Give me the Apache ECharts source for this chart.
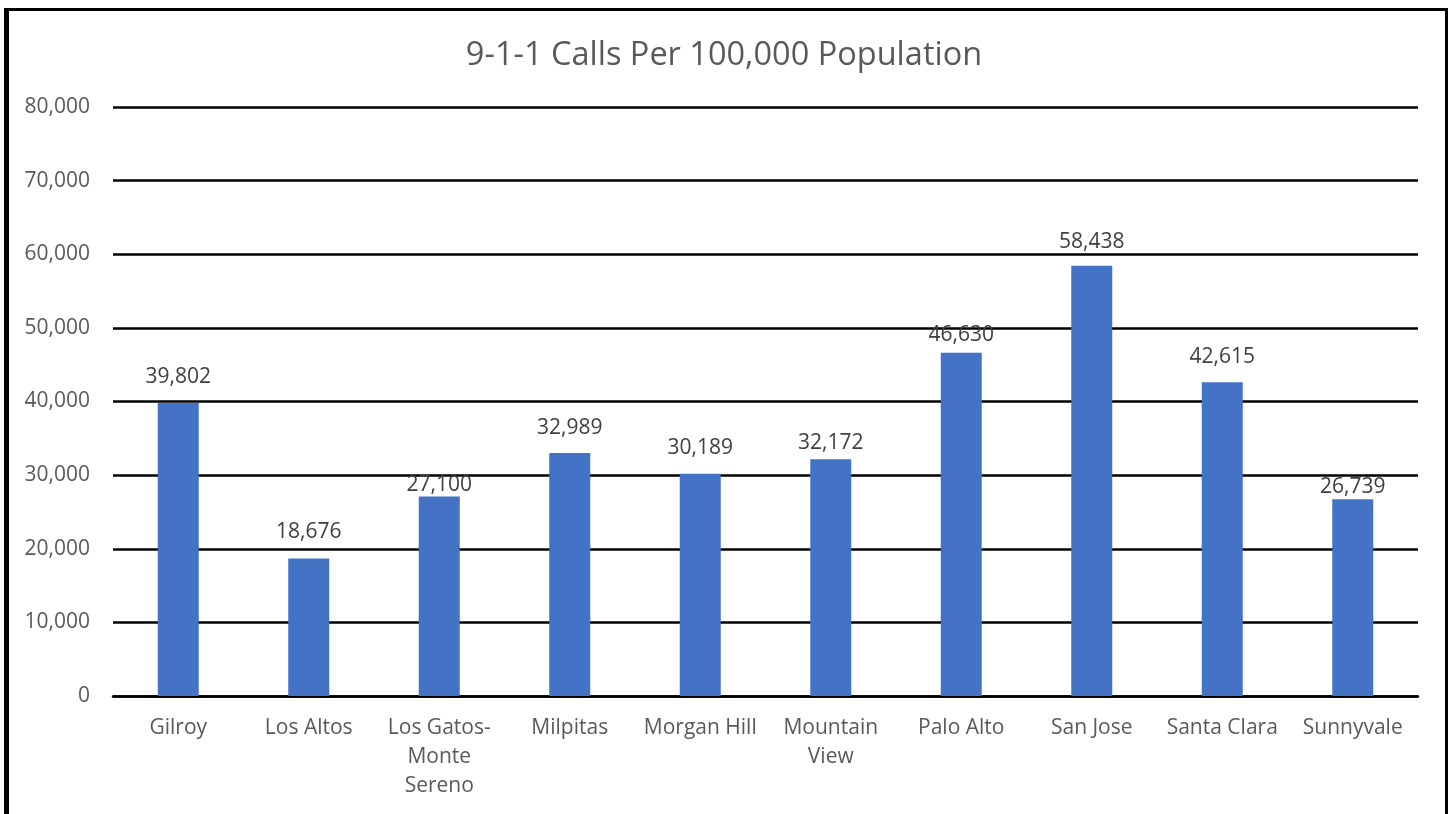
<!DOCTYPE html>
<html>
<head>
<meta charset="utf-8">
<script src="https://cdn.jsdelivr.net/npm/echarts@6/dist/echarts.min.js"></script>
<style>
  html, body { margin: 0; padding: 0; background: #fff; overflow: hidden; }
  #main { position: absolute; left: 0; top: 0; width: 1448px; height: 814px; }
  #frame {
    position: absolute; left: 4px; top: 8px; width: 1436px; height: 900px;
    border-left: 5px solid #000; border-top: 3px solid #000; border-right: 3px solid #000;
    pointer-events: none;
  }
</style>
</head>
<body>
<div id="main"></div>
<div id="frame"></div>
<script>
  // data
  var cities = ['Gilroy', 'Los Altos', 'Los Gatos-Monte Sereno', 'Milpitas', 'Morgan Hill',
                'Mountain View', 'Palo Alto', 'San Jose', 'Santa Clara', 'Sunnyvale']
  var callsPer100k = [39802, 18676, 27100, 32989, 30189, 32172, 46630, 58438, 42615, 26739]
  var yTicks = [0, 10000, 20000, 30000, 40000, 50000, 60000, 70000, 80000]

  // label spacing above each bar (the original labels were nudged by hand)
  var labelGap = [15, 16, 1, 15, 15, 6, 7, 13, 15, 2]

  var font = '"Open Sans", "Liberation Sans", sans-serif'
  var fmt = function (v) { return Number(v).toLocaleString('en-US') }

  var barData = callsPer100k.map(function (v, i) {
    return { value: v, label: { distance: labelGap[i] } }
  })

  var myChart = echarts.init(document.getElementById('main'))
  var option = {
    backgroundColor: '#fff',
    animation: false,
    title: {
      text: '9-1-1 Calls Per 100,000 Population',
      left: 'center',
      top: 34,
      textStyle: { fontFamily: font, fontSize: 32.5, fontWeight: 'normal', color: '#595959' }
    },
    grid: { left: 113, right: 30, top: 107, bottom: 118 },
    xAxis: {
      type: 'category',
      data: cities,
      axisLine: { lineStyle: { color: '#000', width: 2.5 } },
      axisTick: { show: false },
      axisLabel: {
        interval: 0,
        margin: 18,
        color: '#595959',
        fontFamily: font,
        fontSize: 21,
        lineHeight: 29,
        formatter: function (v) {
          return v.replace('-', '-\n').replace(/ (Sereno|View)$/, '\n$1')
        }
      }
    },
    yAxis: {
      type: 'value',
      min: yTicks[0],
      max: yTicks[yTicks.length - 1],
      interval: yTicks[1] - yTicks[0],
      axisLine: { show: false },
      axisTick: { show: false },
      splitLine: { lineStyle: { color: '#000', width: 2.5 } },
      axisLabel: {
        margin: 23,
        color: '#595959',
        fontFamily: font,
        fontSize: 21,
        formatter: fmt
      }
    },
    series: [{
      type: 'bar',
      data: barData,
      barWidth: 41,
      itemStyle: { color: '#4472C4' },
      label: {
        show: true,
        position: 'top',
        color: '#404040',
        fontFamily: font,
        fontSize: 21,
        formatter: function (p) { return fmt(p.value) }
      }
    }]
  }
  myChart.setOption(option)
</script>
</body>
</html>
